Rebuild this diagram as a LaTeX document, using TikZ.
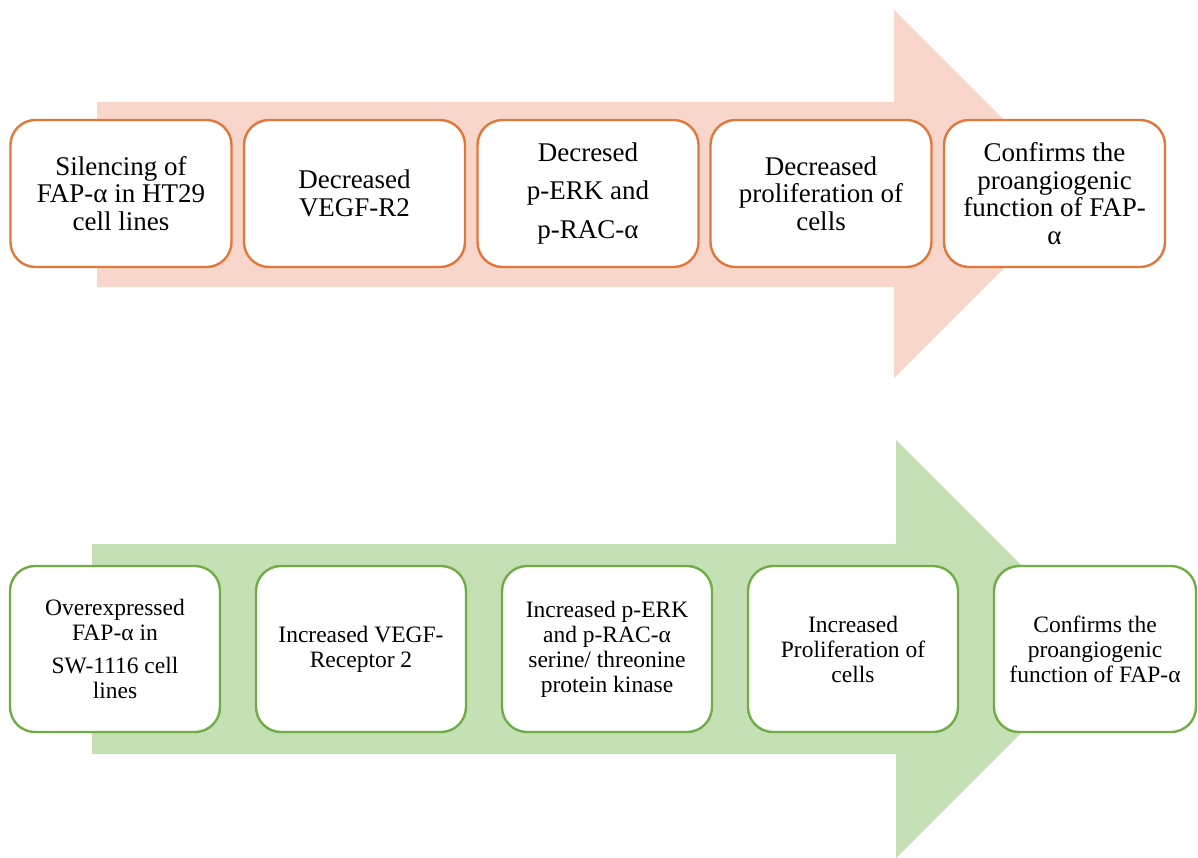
\documentclass[tikz,border=0pt]{standalone}
\usepackage{fontspec}
\setmainfont{Liberation Serif}
\definecolor{orangeln}{HTML}{E2773A}
\definecolor{pinkfill}{HTML}{F8D6CC}
\definecolor{greenln}{HTML}{70AD47}
\definecolor{greenfill}{HTML}{C5E0B4}
\tikzset{
  topbox/.style={draw=orangeln, line width=2.4pt, fill=white, rounded corners=25pt,
    minimum width=221pt, minimum height=147pt, inner sep=0pt, align=center,
    font=\fontsize{27}{27.5}\selectfont},
  botbox/.style={draw=greenln, line width=2.4pt, fill=white, rounded corners=25pt,
    minimum width=210pt, minimum height=166pt, inner sep=0pt, align=center,
    font=\fontsize{23.5}{25}\selectfont}
}
\begin{document}
\begin{tikzpicture}[x=1pt,y=-1pt]
\useasboundingbox (0,0) rectangle (1198,857);
\begin{scope}
\clip (0,0) rectangle (1198,857);
% top arrow
\fill[pinkfill] (97,102) -- (894,102) -- (894,10) -- (1078,194) -- (894,378) -- (894,287) -- (97,287) -- cycle;
% bottom arrow
\fill[greenfill] (92,544) -- (896,544) -- (896,440) -- (1105,649) -- (896,858) -- (896,754) -- (92,754) -- cycle;
\end{scope}
% top boxes
\node[topbox] (t1) at (121,193.5) {Silencing of\\FAP-α in HT29\\cell lines};
\node[topbox] (t2) at (354.5,193.5) {Decreased\\VEGF-R2};
\node[topbox] (t3) at (588,193.5) {Decresed\\[11pt]p-ERK and\\[11pt]p-RAC-α};
\node[topbox] (t4) at (821,193.5) {Decreased\\proliferation of\\cells};
\node[topbox] (t5) at (1054.5,193.5) {Confirms the\\proangiogenic\\function of FAP-\\α};
% bottom boxes
\node[botbox] (b1) at (115,649) {Overexpressed\\FAP-α in\\[8pt]SW-1116 cell\\lines};
\node[botbox] (b2) at (361,649) {Increased VEGF-\\Receptor 2};
\node[botbox] (b3) at (607,649) {Increased p-ERK\\and p-RAC-α\\serine/ threonine\\protein kinase};
\node[botbox] (b4) at (853,649) {Increased\\Proliferation of\\cells};
\node[botbox, minimum width=202pt] (b5) at (1095,649) {Confirms the\\proangiogenic\\function of FAP-α};
\end{tikzpicture}
\end{document}
